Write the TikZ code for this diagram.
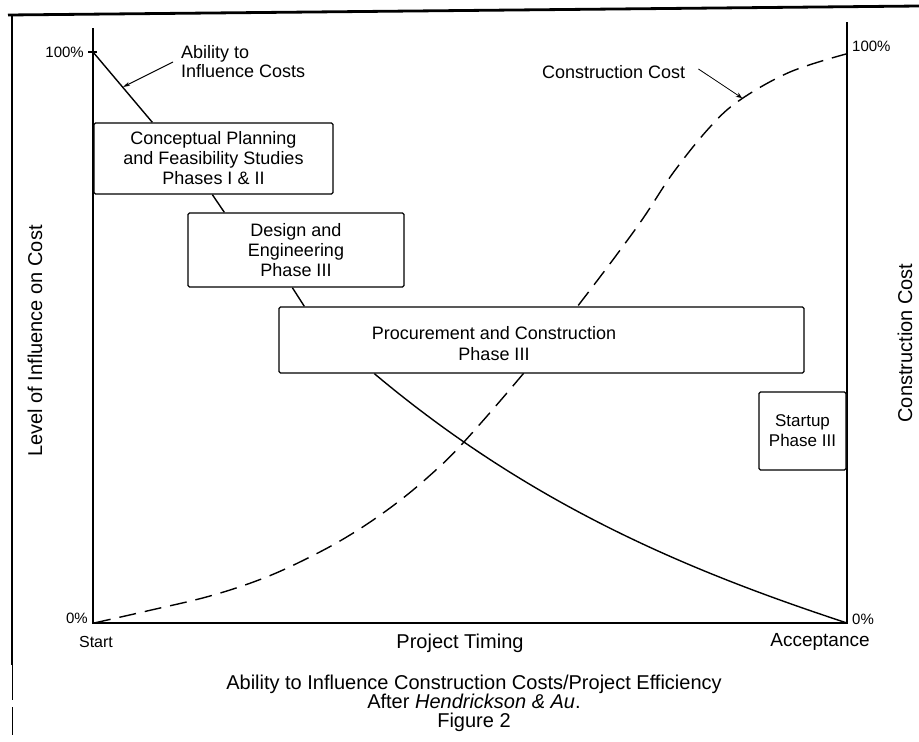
\documentclass[tikz,border=0pt]{standalone}
\usepackage{fontspec}
\setmainfont{Liberation Sans}
\usetikzlibrary{arrows.meta}
\begin{document}
\begin{tikzpicture}[x=1pt,y=-1pt,
  box/.style={draw, line width=1.3pt, fill=white, rounded corners=1.5pt, inner sep=0pt, align=center, font=\fontsize{18}{20}\selectfont},
  boxtxt/.style={align=center, inner sep=0pt, font=\fontsize{18}{21}\selectfont},
  axisline/.style={line width=2pt},
  curve/.style={line width=1.4pt},
  lbl/.style={inner sep=1pt},
  frameline/.style={line width=2.8pt}
]
\useasboundingbox (0,0) rectangle (919,742);
% outer frame
\draw[frameline] (8,15) -- (919,6);
\draw[frameline] (12,14) -- (12,665);
\draw[line width=0.9pt] (12,665) -- (12,700) (12,707) -- (12,735);
% axes
\coordinate (o) at (93,623);
\coordinate (lt) at (93,28);
\coordinate (rt) at (847,22);
\coordinate (rb) at (847,623);
\coordinate (p100) at (93,52);
\draw[axisline] (lt) -- (o) -- (rb) -- (rt);
\draw[line width=1.2pt] (88,52) -- (97,52);
% construction cost curve (dashed)
\draw[curve, dash pattern=on 17pt off 9pt] plot[smooth, tension=0.6] coordinates {(94,623) (147,611) (210,596) (264,578) (310,557) (350,535) (390,508) (427,478) (463,443) (523,374) (577,307) (637,227) (673,173) (710,127) (740,100) (790,72) (846,54)};
% phase boxes
\node[box, minimum width=239pt, minimum height=71pt] (cp) at (213.5,158.5) {Conceptual Planning\\and Feasibility Studies\\Phases I \& II};
\node[box, minimum width=216pt, minimum height=74pt] (de) at (296,250) {Design and\\Engineering\\Phase III};
\node[box, minimum width=525pt, minimum height=66pt] (pc) at (541.5,340) {};
\node[boxtxt] (pct) at (494,344) {Procurement and Construction\\Phase III};
\node[box, minimum width=87pt, minimum height=78pt, font=\fontsize{17}{20}\selectfont] (su) at (802.5,431) {Startup\\Phase III};
% ability to influence curve
\draw[curve] (p100) -- ([xshift=59pt]cp.north west);
\draw[curve] ([xshift=119pt]cp.south west) -- ([xshift=37pt]de.north west);
\draw[curve] ([xshift=105pt]de.south west) -- ([xshift=26pt]pc.north west);
\draw[curve] ([xshift=96pt]pc.south west) .. controls (532,506) and (689,571) .. (rb);
% curve labels
\node[lbl, anchor=west, align=left, font=\fontsize{18}{19}\selectfont] (abil) at (180,62) {Ability to\\Influence Costs};
\coordinate (ap) at (123,87);
\draw[line width=1pt, -{Stealth[length=7pt,width=4pt]}] ([xshift=-7pt]abil.west) -- (ap);
\node[lbl, anchor=west, font=\fontsize{18}{20}\selectfont] (ccl) at (541,72) {Construction Cost};
\coordinate (ccp) at (742,98);
\draw[line width=0.8pt, -{Stealth[length=6pt,width=5pt]}] ([xshift=12pt,yshift=3pt]ccl.east) -- (ccp);
% axis labels
\node[lbl, anchor=east, font=\fontsize{15}{15}\selectfont] (l100) at (85,52) {100\%};
\node[lbl, anchor=west, font=\fontsize{15}{15}\selectfont] (r100) at (851,46) {100\%};
\node[lbl, anchor=east, font=\fontsize{15}{15}\selectfont] (l0) at (89,618) {0\%};
\node[lbl, anchor=west, font=\fontsize{15}{15}\selectfont] (r0) at (851,619) {0\%};
\node[lbl, font=\fontsize{16}{16}\selectfont] (start) at (96,642) {Start};
\node[lbl, font=\fontsize{20}{20}\selectfont] (timing) at (460,643) {Project Timing};
\node[lbl, font=\fontsize{19}{19}\selectfont] (acc) at (820,642) {Acceptance};
\node[lbl, rotate=90, font=\fontsize{20}{20}\selectfont] (ylab) at (35,341) {Level of Influence on Cost};
\node[lbl, rotate=90, font=\fontsize{20}{20}\selectfont] (y2lab) at (905,343) {Construction Cost};
% caption
\node[lbl, align=center, font=\fontsize{20}{19}\selectfont] (cap) at (474,703) {Ability to Influence Construction Costs/Project Efficiency\\After \textit{Hendrickson \& Au}.\\Figure 2};
\end{tikzpicture}
\end{document}
